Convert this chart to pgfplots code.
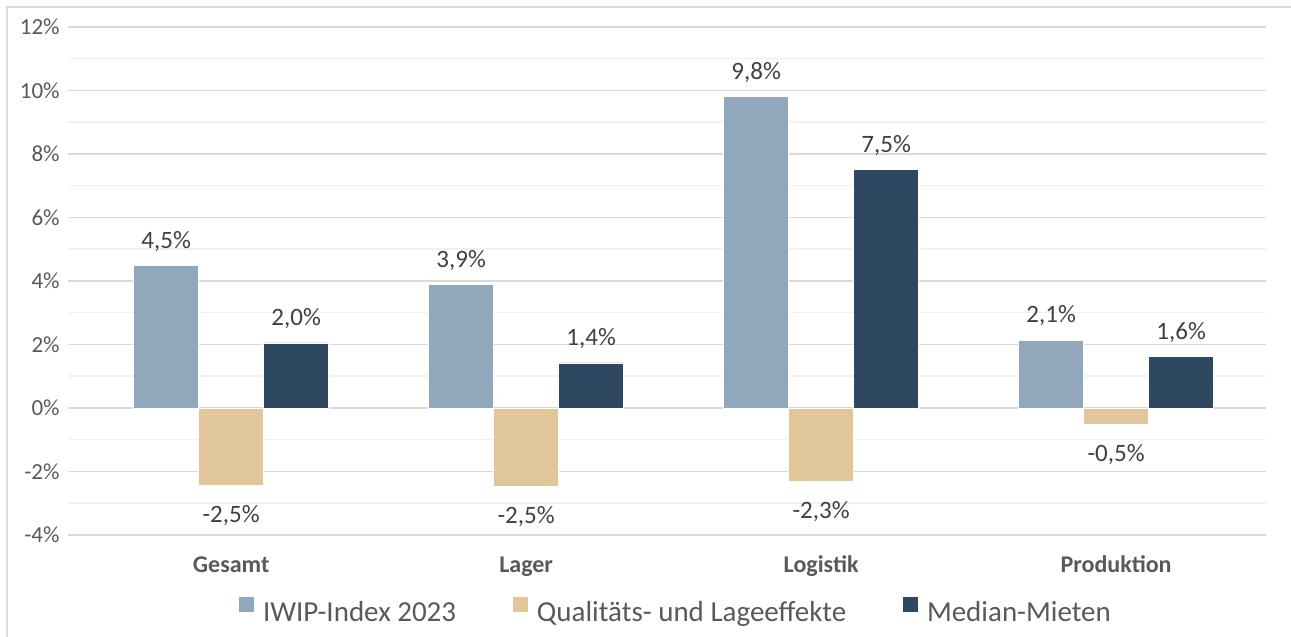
\documentclass[border=0pt]{standalone}
\usepackage{fontspec}
\setmainfont{Carlito}
\usepackage{pgfplots}
\usepackage{pgfplotstable}
\pgfplotsset{compat=1.18}

\definecolor{iwip}{HTML}{91A7BC}
\definecolor{qual}{HTML}{E0C699}
\definecolor{median}{HTML}{2E4862}
\definecolor{txt}{HTML}{595959}
\definecolor{lbl}{HTML}{404040}

% x = category index, y = bar height, lab = printed label
\pgfplotstableread{
x y lab
0 4.50 4,5
1 3.90 3,9
2 9.82 9,8
3 2.14 2,1
}\tiwip
\pgfplotstableread{
x y lab
0 -2.44 -2,5
1 -2.47 -2,5
2 -2.31 -2,3
3 -0.52 -0,5
}\tqual
\pgfplotstableread{
x y lab
0 2.05 2,0
1 1.42 1,4
2 7.50 7,5
3 1.63 1,6
}\tmed

\begin{document}
\begin{tikzpicture}[x=1pt,y=1pt]
\useasboundingbox (0,0) rectangle (645.5,318.5);
\draw[color=black!15, line width=0.8pt] (3.5,0) -- (3.5,315) -- (645.5,315);
\begin{axis}[
    at={(34pt,51pt)}, anchor=south west,
    scale only axis, width=599pt, height=254pt,
    ymin=-4, ymax=12,
    ytick={-4,-2,...,12}, minor ytick={-3,-1,...,11},
    xmin=-0.553, xmax=3.508,
    xtick={0,1,2,3},
    xticklabels={Gesamt,Lager,Logistik,Produktion},
    ybar=0pt, bar width=32.5pt,
    axis line style={draw=none},
    major tick length=0pt, minor tick length=0pt,
    ymajorgrids, yminorgrids,
    major grid style={color=black!15, line width=0.75pt},
    minor grid style={color=black!6, line width=0.75pt},
    /pgf/number format/assume math mode=true,
    yticklabel={\pgfmathprintnumber{\tick}\%},
    yticklabel style={font=\fontsize{11.5}{13}\selectfont, color=txt, anchor=east, inner sep=0pt, xshift=-4pt},
    xticklabel style={font=\bfseries\fontsize{12}{14}\selectfont, color=txt, anchor=base, inner sep=0pt, yshift=-19pt},
    point meta=explicit symbolic,
    nodes near coords={\pgfplotspointmeta\%},
    every node near coord/.append style={font=\fontsize{12.5}{14}\selectfont, color=lbl, anchor=center, inner sep=0pt, yshift=12pt},
    legend style={at={(0.508,-0.152)}, anchor=center, draw=none, fill=none,
        legend columns=3, font=\fontsize{14.5}{16}\selectfont, text=txt,
        nodes={inner xsep=2pt},
        /tikz/every even column/.append style={column sep=26pt}},
    legend image code/.code={\fill[#1] (0pt,0pt) rectangle (8pt,8pt); \path (10pt,0pt);},
]
\addplot[fill=iwip, draw=white, line width=0.4pt] table[x=x, y=y, meta=lab] {\tiwip};
\addplot[fill=qual, draw=white, line width=0.4pt,
    every node near coord/.append style={yshift=-27pt}] table[x=x, y=y, meta=lab] {\tqual};
\addplot[fill=median, draw=white, line width=0.4pt] table[x=x, y=y, meta=lab] {\tmed};
\legend{IWIP-Index 2023, Qualitäts- und Lageeffekte, Median-Mieten}
\end{axis}
\end{tikzpicture}
\end{document}
